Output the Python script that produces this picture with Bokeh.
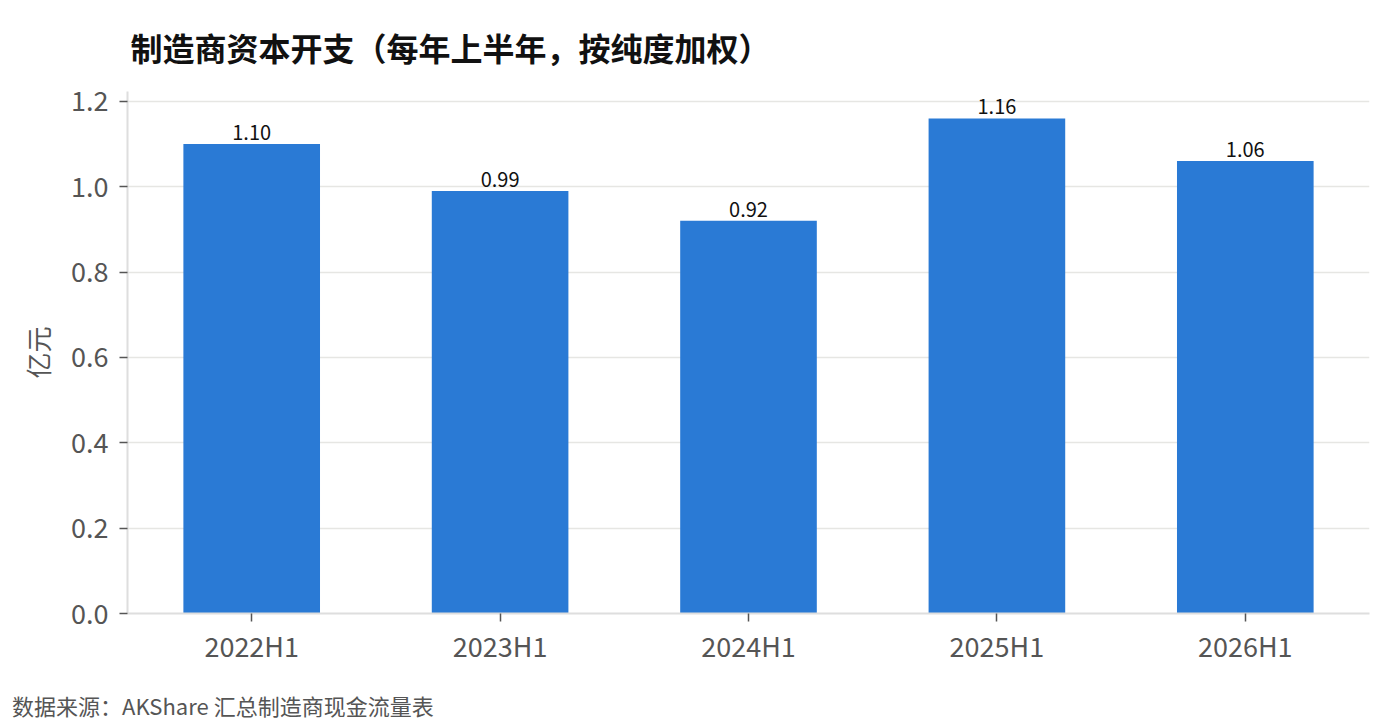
from bokeh.plotting import figure
from bokeh.layouts import column
from bokeh.models import ColumnDataSource, Title, LabelSet, FactorRange, NumeralTickFormatter, Div
from bokeh.core.properties import value
from bokeh.embed import file_html
from bokeh.resources import INLINE

# data
periods = ["2022H1", "2023H1", "2024H1", "2025H1", "2026H1"]
capex = [1.10, 0.99, 0.92, 1.16, 1.06]
labels = ["%.2f" % v for v in capex]
yticks = [0, 0.2, 0.4, 0.6, 0.8, 1.0, 1.2]

FONT = "Noto Sans CJK SC"

source = ColumnDataSource(data=dict(period=periods, capex=capex, label=labels))

p = figure(x_range=FactorRange(*periods, range_padding=0), y_range=(0, 1.223),
           width=1392, height=690, output_backend="svg", toolbar_location=None,
           min_border_left=127, min_border_right=23, min_border_top=90, min_border_bottom=77)

p.title = Title(text="制造商资本开支（每年上半年，按纯度加权）", text_font=FONT,
                text_font_size="32px", text_font_style="bold", text_color="#111111",
                align="left", offset=3, standoff=43)

p.vbar(x="period", top="capex", width=0.55, source=source, color="#2a7ad5", line_color=None)

p.add_layout(LabelSet(x="period", y="capex", text="label", source=source,
                      text_align="center", text_baseline="bottom", y_offset=4,
                      text_font=value(FONT), text_font_size="20px", text_color="#111111"))

p.outline_line_color = None
p.xgrid.grid_line_color = None
p.ygrid.grid_line_color = "#e6e6e3"
p.ygrid.grid_line_width = 1.5
p.yaxis.ticker = yticks
p.yaxis.formatter = NumeralTickFormatter(format="0.0")
p.yaxis.axis_label = "亿元"

for ax in (p.xaxis, p.yaxis):
    ax.axis_line_color = "#dedede"
    ax.axis_line_width = 2
    ax.major_tick_line_color = "#555555"
    ax.major_tick_line_width = 1.5
    ax.major_tick_in = 0
    ax.major_tick_out = 8
    ax.minor_tick_line_color = None
    ax.major_label_text_font = FONT
    ax.major_label_text_font_size = "27px"
    ax.major_label_text_color = "#555555"
    ax.axis_label_text_font = FONT
    ax.axis_label_text_font_size = "26px"
    ax.axis_label_text_color = "#555555"
    ax.axis_label_text_font_style = "normal"

p.yaxis.major_label_standoff = 11
p.yaxis.axis_label_standoff = 12
p.xaxis.major_label_standoff = 4

# source note under the chart
note = Div(text="数据来源：AKShare 汇总制造商现金流量表", width=1380, height=30,
           margin=(0, 0, 0, 12),
           styles={"font-family": FONT, "font-size": "22px", "color": "#555555",
                   "line-height": "30px", "white-space": "nowrap"})

layout = column(p, note, spacing=0)

open("out.html", "w").write(file_html(layout, INLINE))
